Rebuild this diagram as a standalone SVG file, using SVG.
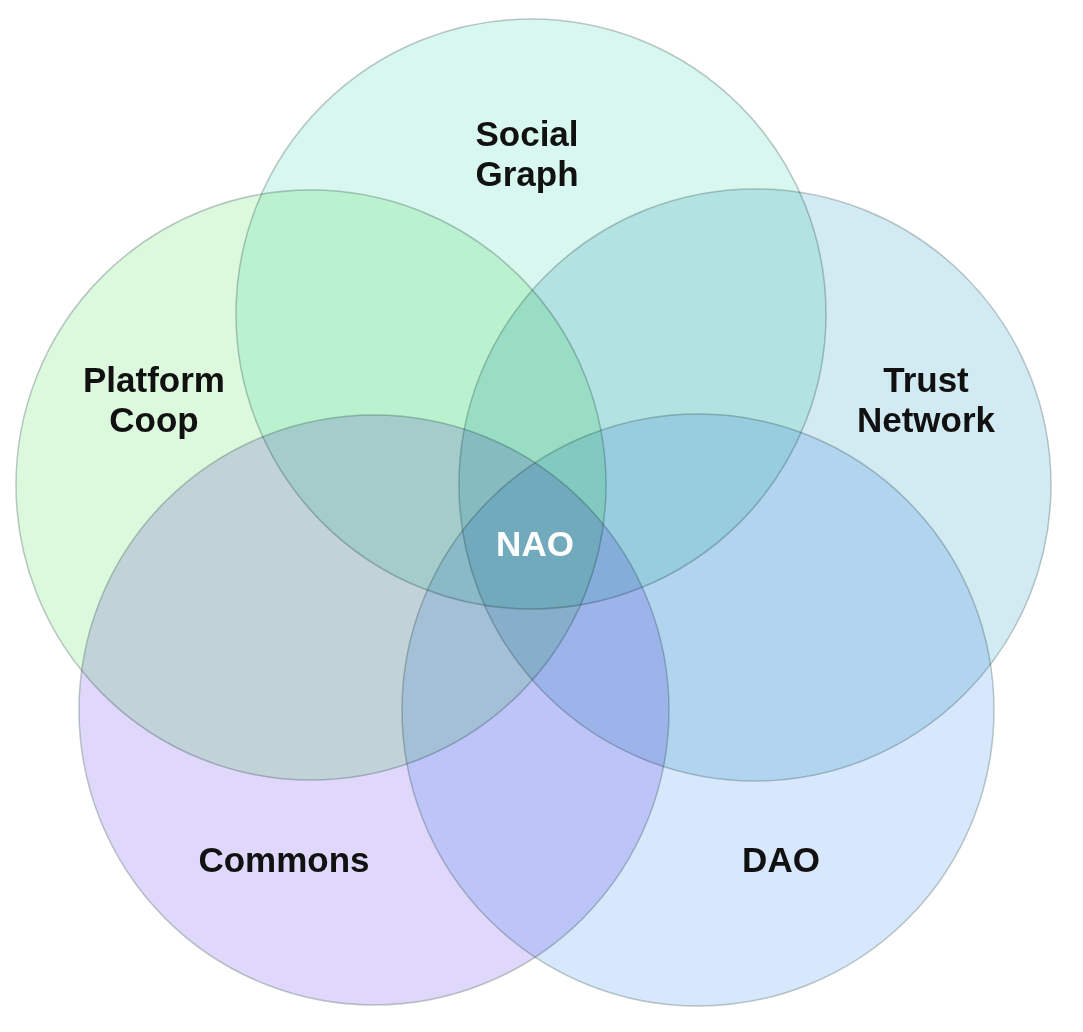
<svg xmlns="http://www.w3.org/2000/svg" width="1083" height="1032" viewBox="0 0 1083 1032">
<style>
.c{stroke:#6f8585;stroke-opacity:0.45;stroke-width:1.5;mix-blend-mode:multiply}
.t{font-family:"Liberation Sans",Arial,sans-serif;font-weight:bold;font-size:35px;fill:#111;text-anchor:middle}
.w{fill:#fff}
</style>
<rect width="1083" height="1032" fill="#fff"/>
<g id="social-graph"><circle class="c" cx="531" cy="314" r="295" fill="rgb(216,247,238)"/></g>
<g id="platform-coop"><circle class="c" cx="311" cy="485" r="295" fill="rgb(220,249,222)"/></g>
<g id="trust-network"><circle class="c" cx="755" cy="485" r="296" fill="rgb(210,234,242)"/></g>
<g id="commons"><circle class="c" cx="374" cy="710" r="295" fill="rgb(224,216,250)"/></g>
<g id="dao"><circle class="c" cx="698" cy="710" r="296" fill="rgb(216,232,252)"/></g>
<g id="labels">
<text class="t" x="527" y="146">Social</text>
<text class="t" x="527" y="186">Graph</text>
<text class="t" x="154" y="392">Platform</text>
<text class="t" x="154" y="432">Coop</text>
<text class="t" x="926" y="392">Trust</text>
<text class="t" x="926" y="432">Network</text>
<text class="t" x="284" y="872">Commons</text>
<text class="t" x="781" y="872">DAO</text>
<text class="t w" x="535" y="556">NAO</text>
</g>
<g id="connectors"/>
</svg>
